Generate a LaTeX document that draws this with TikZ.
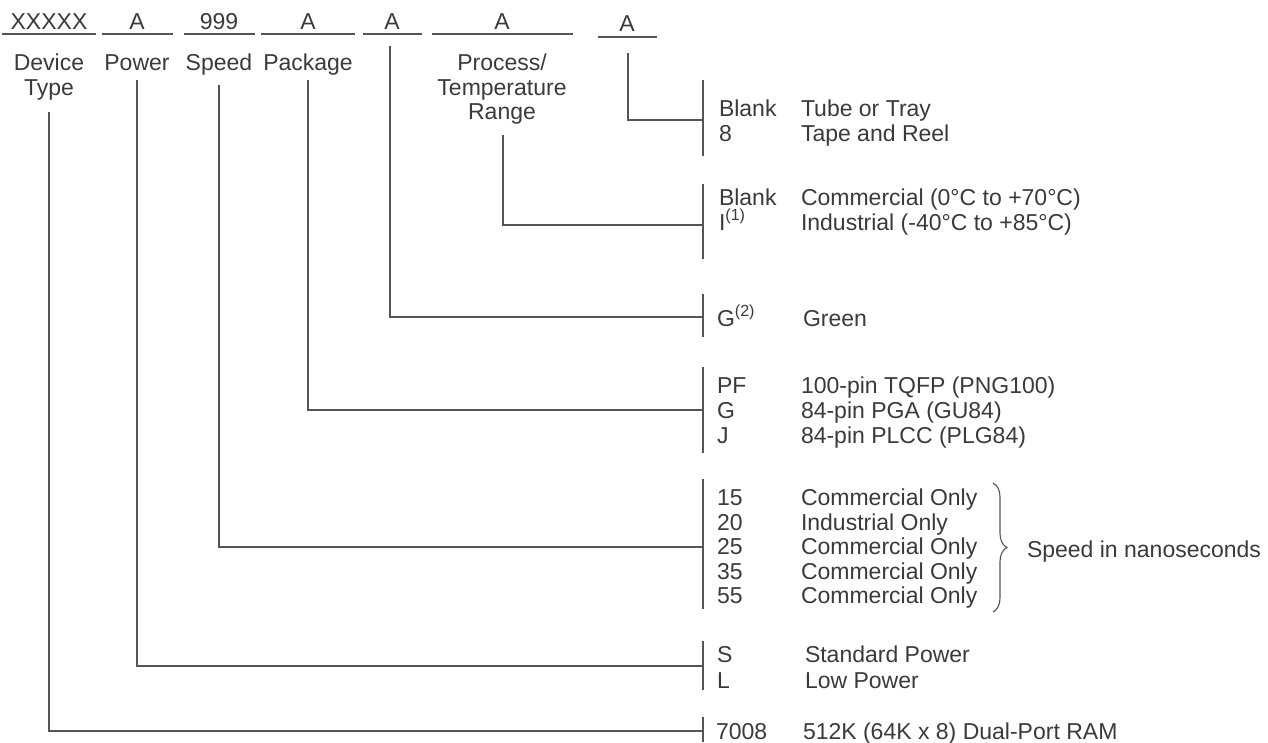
\documentclass[tikz,border=0pt]{standalone}
\usepackage{fontspec}
\setmainfont{Liberation Sans}
\usetikzlibrary{decorations.pathreplacing}
\definecolor{ink}{HTML}{3A3A3A}
\definecolor{rulec}{HTML}{555555}
\begin{document}
\begin{tikzpicture}[x=1pt,y=-1pt,
  txt/.style={inner sep=0pt, outer sep=0pt, text=ink, font=\fontsize{23}{25}\selectfont},
  ctr/.style={txt, anchor=base},
  lft/.style={txt, anchor=base west},
  ln/.style={draw=rulec, line width=1.2pt},
  brc/.style={draw=rulec, line width=1.1pt, decorate, decoration={brace, amplitude=14pt}}]
\useasboundingbox (0,0) rectangle (1268,742);

% ---- top code fields ----
\node[ctr] (fdev) at (49,29) {XXXXX};
\node[ctr] (fpow) at (137,29) {A};
\node[ctr] (fspd) at (219,29) {999};
\node[ctr] (fpkg) at (308,29) {A};
\node[ctr] (fgrn) at (392,29) {A};
\node[ctr] (fprc) at (502,29) {A};
\node[ctr] (fpak) at (627,31) {A};
\draw[ln] (2,34) -- (96,34);
\draw[ln] (102,34) -- (173,34);
\draw[ln] (184,34) -- (255,34);
\draw[ln] (261,34) -- (355,34);
\draw[ln] (363,34) -- (422,34);
\draw[ln] (432,34) -- (573,34);
\draw[ln] (598,37) -- (657,37);

% ---- field labels ----
\node[ctr] (ldev1) at (49,70) {Device};
\node[ctr] (ldev2) at (49,95) {Type};
\node[ctr] (lpow) at (137,70) {Power};
\node[ctr] (lspd) at (219,70) {Speed};
\node[ctr] (lpkg) at (308,70) {Package};
\node[ctr] (lprc1) at (502,70) {Process/};
\node[ctr] (lprc2) at (502,95) {Temperature};
\node[ctr] (lprc3) at (502,119) {Range};

% ---- connector start points ----
\coordinate (sdev) at (49,112);
\coordinate (spow) at (137,80);
\coordinate (sspd) at (219,85);
\coordinate (spkg) at (308,80);
\coordinate (sgrn) at (390,46);
\coordinate (sprc) at (503,135);
\coordinate (spak) at (628,53);

% ---- bracket bars (x = 703) ----
\coordinate (b1t) at (703,80);  \coordinate (b1b) at (703,156); \coordinate (b1) at (703,120);
\coordinate (b2t) at (703,184); \coordinate (b2b) at (703,259); \coordinate (b2) at (703,225);
\coordinate (b3t) at (703,294); \coordinate (b3b) at (703,337); \coordinate (b3) at (703,317);
\coordinate (b4t) at (703,367); \coordinate (b4b) at (703,453); \coordinate (b4) at (703,410);
\coordinate (b5t) at (703,479); \coordinate (b5b) at (703,609); \coordinate (b5) at (703,547);
\coordinate (b6t) at (703,641); \coordinate (b6b) at (703,690); \coordinate (b6) at (703,666);
\coordinate (b7t) at (703,717); \coordinate (b7b) at (703,742); \coordinate (b7) at (703,731);
\foreach \i in {1,...,7} {\draw[ln] (b\i t) -- (b\i b);}

% ---- connectors ----
\draw[ln] (spak) |- (b1);
\draw[ln] (sprc) |- (b2);
\draw[ln] (sgrn) |- (b3);
\draw[ln] (spkg) |- (b4);
\draw[ln] (sspd) |- (b5);
\draw[ln] (spow) |- (b6);
\draw[ln] (sdev) |- (b7);

% ---- option lists ----
\node[lft] (c11) at (719,116) {Blank};
\node[lft] (d11) at (801,116) {Tube or Tray};
\node[lft] (c12) at (719,141) {8};
\node[lft] (d12) at (801,141) {Tape and Reel};

\node[lft] (c21) at (719,205) {Blank};
\node[lft] (d21) at (801,205) {Commercial (0°C to +70°C)};
\node[lft] (c22) at (719,230) {I\textsuperscript{(1)}};
\node[lft] (d22) at (801,230) {Industrial (-40°C to +85°C)};

\node[lft] (c31) at (717,326) {G\textsuperscript{(2)}};
\node[lft] (d31) at (803,326) {Green};

\node[lft] (c41) at (717,393) {PF};
\node[lft] (d41) at (801,393) {100-pin TQFP (PNG100)};
\node[lft] (c42) at (717,418) {G};
\node[lft] (d42) at (801,418) {84-pin PGA (GU84)};
\node[lft] (c43) at (717,443) {J};
\node[lft] (d43) at (801,443) {84-pin PLCC (PLG84)};

\node[lft] (c51) at (717,505) {15};
\node[lft] (d51) at (801,505) {Commercial Only};
\node[lft] (c52) at (717,530) {20};
\node[lft] (d52) at (801,530) {Industrial Only};
\node[lft] (c53) at (717,554) {25};
\node[lft] (d53) at (801,554) {Commercial Only};
\node[lft] (c54) at (717,579) {35};
\node[lft] (d54) at (801,579) {Commercial Only};
\node[lft] (c55) at (717,603) {55};
\node[lft] (d55) at (801,603) {Commercial Only};

\coordinate (brt) at (993,483);
\coordinate (brb) at (993,612);
\draw[brc] (brt) -- (brb);
\node[lft] (speedns) at (1027,557) {Speed in nanoseconds};

\node[lft] (c61) at (717,662) {S};
\node[lft] (d61) at (805,662) {Standard Power};
\node[lft] (c62) at (717,688) {L};
\node[lft] (d62) at (805,688) {Low Power};

\node[lft] (c71) at (716,739) {7008};
\node[lft] (d71) at (803,739) {512K (64K x 8) Dual-Port RAM};
\end{tikzpicture}
\end{document}
